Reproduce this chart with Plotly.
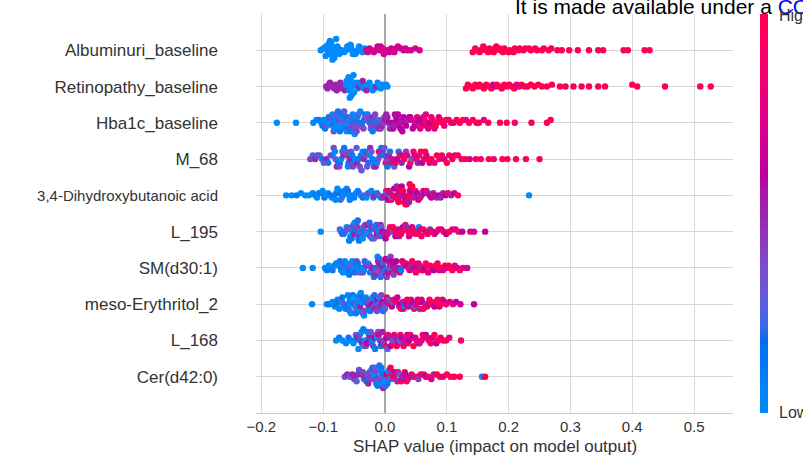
import numpy as np
import plotly.graph_objects as go

# ---------------- data ----------------
feature_names = ["Cer(d42:0)", "L_168", "meso-Erythritol_2", "SM(d30:1)", "L_195",
                 "3,4-Dihydroxybutanoic acid", "M_68", "Hba1c_baseline",
                 "Retinopathy_baseline", "Albuminuri_baseline"]  # bottom -> top

x_tick_values = [-0.2, -0.1, 0.0, 0.1, 0.2, 0.3, 0.4, 0.5]
x_tick_labels = ["\u22120.2", "\u22120.1", "0.0", "0.1", "0.2", "0.3", "0.4", "0.5"]

shap_albuminuri = [
    -0.104, -0.100, -0.098, -0.096, -0.095,
    -0.093, -0.092, -0.091, -0.090, -0.090, -0.089, -0.089, -0.088, -0.088, -0.087, -0.086, -0.085, -0.084, -0.083,
    -0.082, -0.080, -0.079, -0.077, -0.076, -0.074, -0.073,
    -0.070, -0.066, -0.063,
    -0.061, -0.059, -0.058, -0.056, -0.055, -0.053, -0.052,
    -0.050, -0.048, -0.046, -0.044, -0.042,
    -0.039, -0.036, -0.033,
    -0.030, -0.028, -0.025, -0.022, -0.018, -0.015, -0.012, -0.010, -0.009, -0.007,
    -0.004, -0.002, 0.001, 0.004, 0.007, 0.010, 0.012, 0.015, 0.018, 0.021,
    0.026, 0.030, 0.033, 0.037, 0.042, 0.049, 0.056,
    0.142, 0.146, 0.148, 0.153, 0.155, 0.159, 0.161, 0.163, 0.167, 0.169,
    0.171, 0.176, 0.178, 0.180, 0.185, 0.186, 0.191, 0.193, 0.195, 0.200,
    0.202, 0.208, 0.210, 0.216, 0.218, 0.224, 0.227, 0.233, 0.236, 0.243,
    0.246, 0.254, 0.257, 0.265, 0.269,
    0.279, 0.286, 0.298, 0.312, 0.330, 0.345, 0.353, 0.386, 0.393, 0.420, 0.428,
]
feat_albuminuri = [
    0.0, 0.0, 0.0, 0.0, 0.0, 0.0, 0.0, 0.0, 0.0, 0.0, 0.0,
    0.0, 0.0, 0.0, 0.0, 0.0, 0.0, 0.0, 0.0, 0.0, 0.0, 0.0,
    0.0, 0.0, 0.0, 0.0, 0.0, 0.0, 0.0, 0.0, 0.0, 0.0, 0.0,
    0.0, 0.0, 0.0, 0.0, 0.0, 0.0, 0.0, 0.0, 0.0, 0.0, 0.0,
    0.7, 0.7, 0.7, 0.7, 0.7, 0.7, 0.7, 0.7, 0.7, 0.7,
    0.7, 0.7, 0.7, 0.7, 0.7, 0.7, 0.7, 0.7, 0.7, 0.7,
    0.7, 0.7, 0.7, 0.7, 0.7, 0.7, 0.7,
    1.0, 1.0, 1.0, 1.0, 1.0, 1.0, 1.0, 1.0, 1.0, 1.0,
    1.0, 1.0, 1.0, 1.0, 1.0, 1.0, 1.0, 1.0, 1.0, 1.0,
    1.0, 1.0, 1.0, 1.0, 1.0, 1.0, 1.0, 1.0, 1.0, 1.0,
    1.0, 1.0, 1.0, 1.0, 1.0,
    1.0, 1.0, 1.0, 1.0, 1.0, 1.0, 1.0, 1.0, 1.0, 1.0, 1.0,
]

shap_retinopathy = [
    -0.095, -0.093, -0.091, -0.089, -0.087, -0.085,
    -0.082, -0.080, -0.078, -0.076, -0.074, -0.072,
    -0.069, -0.067, -0.065, -0.063, -0.062, -0.061, -0.060, -0.059,
    -0.058, -0.057, -0.057, -0.056, -0.055, -0.055, -0.054, -0.053, -0.052, -0.051, -0.050, -0.048, -0.046,
    -0.044, -0.042, -0.040, -0.038, -0.036, -0.034,
    -0.032, -0.030, -0.028, -0.025, -0.023, -0.022,
    -0.020, -0.017, -0.014, -0.012, -0.010,
    -0.007, -0.004, -0.002, 0.002, 0.004,
    0.131, 0.134, 0.138, 0.142, 0.146, 0.150, 0.153, 0.157, 0.160, 0.164,
    0.168, 0.172, 0.175, 0.178, 0.181, 0.185, 0.189, 0.193, 0.197, 0.201,
    0.205, 0.209, 0.213, 0.217, 0.221, 0.226, 0.231, 0.236, 0.242, 0.248,
    0.254, 0.262, 0.270,
    0.283, 0.292, 0.305, 0.318, 0.330, 0.345, 0.356, 0.400, 0.408, 0.453, 0.510, 0.527,
]
feat_retinopathy = [
    0.5, 0.5, 0.5, 0.5, 0.5, 0.5,
    0.5, 0.5, 0.5, 0.5, 0.5, 0.5,
    0.5, 0.5, 0.5, 0.0, 0.0, 0.0, 0.0, 0.0,
    0.0, 0.0, 0.0, 0.0, 0.0, 0.0, 0.0, 0.0, 0.0, 0.0, 0.0, 0.0, 0.0,
    0.0, 0.5, 0.0, 0.0, 0.5, 0.0,
    0.0, 0.5, 0.0, 0.0, 0.5, 0.0,
    0.0, 0.0, 0.5, 0.0, 0.0,
    0.0, 0.0, 0.0, 0.0, 0.0,
    1.0, 1.0, 1.0, 1.0, 1.0, 1.0, 1.0, 1.0, 1.0, 1.0,
    1.0, 1.0, 0.7, 0.6, 1.0, 1.0, 1.0, 1.0, 1.0, 1.0,
    1.0, 1.0, 0.8, 0.7, 1.0, 1.0, 1.0, 1.0, 1.0, 1.0,
    1.0, 1.0, 1.0,
    1.0, 1.0, 1.0, 1.0, 1.0, 1.0, 1.0, 1.0, 1.0, 1.0, 1.0, 1.0,
]

shap_hba1c = [
    -0.175, -0.144, -0.116, -0.111, -0.107,
    -0.103, -0.101, -0.099, -0.097,
    -0.094, -0.093, -0.091, -0.089, -0.087,
    -0.085, -0.084, -0.083, -0.082, -0.081, -0.079, -0.078,
    -0.076, -0.075, -0.074, -0.073, -0.071, -0.070, -0.069,
    -0.067, -0.066, -0.065, -0.063, -0.062, -0.061, -0.060,
    -0.058, -0.057, -0.056, -0.055, -0.053, -0.052, -0.051,
    -0.049, -0.048, -0.047, -0.046, -0.045, -0.044, -0.043,
    -0.041, -0.040, -0.038, -0.037, -0.035, -0.034,
    -0.032, -0.031, -0.029, -0.028, -0.026, -0.025,
    -0.023, -0.022, -0.020, -0.019, -0.017, -0.016,
    -0.014, -0.012, -0.011, -0.009, -0.007,
    -0.005, -0.003, -0.001, 0.000, 0.002,
    0.004, 0.006, 0.008, 0.009, 0.011,
    0.013, 0.015, 0.016, 0.018, 0.019,
    0.021, 0.022, 0.024, 0.025, 0.027, 0.028,
    0.030, 0.032, 0.034, 0.036,
    0.039, 0.041, 0.043, 0.045,
    0.048, 0.050, 0.052, 0.054,
    0.057, 0.059, 0.060, 0.062, 0.064,
    0.066, 0.067, 0.069, 0.070, 0.072, 0.073,
    0.075, 0.077, 0.080, 0.082,
    0.084, 0.087, 0.090,
    0.093, 0.096, 0.099,
    0.103, 0.107, 0.111, 0.116, 0.121, 0.126, 0.131, 0.136, 0.142, 0.148, 0.152, 0.160, 0.167,
    0.186, 0.197, 0.210, 0.237, 0.262, 0.268,
]
feat_hba1c = [
    0.0, 0.0, 0.0, 0.0, 0.1,
    0.0, 0.2, 0.0, 0.1,
    0.3, 0.0, 0.1, 0.4, 0.0,
    0.0, 0.2, 0.4, 0.0, 0.1, 0.3, 0.0,
    0.2, 0.0, 0.4, 0.1, 0.0, 0.3, 0.1,
    0.0, 0.3, 0.1, 0.4, 0.0, 0.2, 0.0,
    0.4, 0.0, 0.1, 0.3, 0.2, 0.0, 0.4,
    0.0, 0.3, 0.1, 0.4, 0.0, 0.2, 0.3,
    0.4, 0.0, 0.3, 0.1, 0.4, 0.2,
    0.1, 0.4, 0.3, 0.0, 0.4, 0.2,
    0.3, 0.4, 0.1, 0.5, 0.2, 0.4,
    0.4, 0.2, 0.5, 0.3, 0.4,
    0.5, 0.4, 0.3, 0.5, 0.5,
    0.5, 0.6, 0.5, 0.4, 0.6,
    0.6, 0.5, 0.6, 0.5, 0.6,
    0.6, 0.5, 0.7, 0.6, 0.5, 0.6,
    0.6, 0.7, 0.6, 0.5,
    0.7, 0.6, 0.7, 0.6,
    0.6, 0.7, 0.8, 0.6,
    0.7, 0.9, 0.6, 0.7, 0.8,
    0.8, 0.7, 1.0, 0.7, 0.9, 0.6,
    0.8, 0.9, 0.7, 1.0,
    0.9, 0.7, 1.0,
    1.0, 0.8, 0.9,
    0.9, 1.0, 0.7, 1.0, 1.0, 0.9, 0.8, 1.0, 1.0, 0.9, 1.0, 0.8, 1.0,
    1.0, 1.0, 0.9, 1.0, 1.0, 1.0,
]

shap_m68 = [
    -0.121, -0.117, -0.113, -0.110, -0.106, -0.102, -0.099, -0.095, -0.092, -0.088,
    -0.085, -0.083, -0.081, -0.080, -0.078, -0.076, -0.074, -0.073, -0.071, -0.069,
    -0.067, -0.066, -0.064, -0.062, -0.060, -0.059, -0.057, -0.055, -0.053, -0.052,
    -0.050, -0.048, -0.046, -0.045, -0.043, -0.041, -0.039, -0.038, -0.036, -0.034,
    -0.032, -0.031, -0.029, -0.027, -0.025, -0.024, -0.022, -0.020, -0.018, -0.017,
    -0.015, -0.013, -0.011, -0.010, -0.008, -0.006, -0.004, -0.003, -0.001, 0.001,
    0.003, 0.004, 0.006, 0.008,
    0.010, 0.012, 0.015, 0.017, 0.020, 0.022, 0.024, 0.027, 0.029, 0.031,
    0.034, 0.036, 0.039, 0.041, 0.043, 0.046, 0.048, 0.051, 0.053, 0.055,
    0.058, 0.060, 0.063, 0.065, 0.067, 0.070, 0.072,
    0.075, 0.080, 0.084, 0.088, 0.092, 0.096, 0.100, 0.104, 0.109, 0.113, 0.118, 0.124, 0.130, 0.137,
    0.147, 0.155, 0.168, 0.176, 0.190, 0.198, 0.212, 0.228, 0.250,
]
feat_m68 = [
    0.4, 0.3, 0.5, 0.2, 0.4, 0.1, 0.3, 0.5, 0.2, 0.4,
    0.2, 0.4, 0.0, 0.3, 0.5, 0.1, 0.4, 0.2, 0.0, 0.3,
    0.5, 0.1, 0.3, 0.4, 0.0, 0.2, 0.5, 0.3, 0.1, 0.4,
    0.2, 0.0, 0.3, 0.5, 0.1, 0.4, 0.2, 0.3, 0.0, 0.5,
    0.1, 0.4, 0.3, 0.2, 0.0, 0.5, 0.3, 0.1, 0.4, 0.2,
    0.5, 0.0, 0.3, 0.9, 0.4, 0.1, 0.5, 0.2, 0.3, 0.9,
    0.4, 0.1, 0.5, 0.2,
    0.5, 0.8, 0.3, 1.0, 0.6, 0.2, 0.9, 0.5, 0.7, 1.0,
    0.4, 0.8, 0.6, 1.0, 0.3, 0.9, 0.7, 1.0, 0.5, 0.8,
    1.0, 0.6, 0.9, 1.0, 0.7, 1.0, 0.8,
    1.0, 0.8, 1.0, 0.9, 1.0, 0.7, 1.0, 0.9, 1.0, 0.8, 1.0, 0.9, 1.0, 0.7,
    1.0, 0.9, 1.0, 0.8, 1.0, 1.0, 0.9, 1.0, 1.0,
]

shap_dhba = [
    -0.160, -0.151, -0.143, -0.136, -0.129, -0.123,
    -0.117, -0.113, -0.110, -0.107, -0.104, -0.101, -0.098, -0.095, -0.092, -0.089, -0.086,
    -0.084, -0.082, -0.080, -0.079, -0.077, -0.075, -0.073, -0.072, -0.070, -0.068,
    -0.066, -0.064, -0.062, -0.060, -0.058, -0.057, -0.055, -0.053,
    -0.050, -0.047, -0.044, -0.042, -0.039, -0.036, -0.033, -0.030, -0.027, -0.025,
    -0.022, -0.019, -0.016, -0.013, -0.010, -0.007, -0.004,
    0.000, 0.002, 0.003, 0.005, 0.006, 0.008, 0.010, 0.011, 0.013, 0.015, 0.017, 0.019,
    0.021, 0.022, 0.022, 0.024, 0.025, 0.026, 0.027, 0.027, 0.029, 0.030,
    0.031, 0.031, 0.033, 0.034, 0.035, 0.035, 0.037, 0.038, 0.039, 0.040,
    0.040, 0.042, 0.043, 0.044, 0.046, 0.048, 0.049, 0.052,
    0.054, 0.057, 0.059, 0.062, 0.064, 0.067, 0.069, 0.072, 0.075, 0.078, 0.081, 0.084, 0.087, 0.090,
    0.094, 0.098, 0.102, 0.107, 0.112, 0.118, 0.233,
]
feat_dhba = [
    0.0, 0.0, 0.1, 0.0, 0.0, 0.0,
    0.0, 0.1, 0.0, 0.0, 0.2, 0.0, 0.1, 0.0, 0.0, 0.1, 0.0,
    0.0, 0.1, 0.0, 0.2, 0.0, 0.0, 0.1, 0.0, 0.3, 0.0,
    0.1, 0.0, 0.0, 0.2, 0.0, 0.1, 0.0, 0.0,
    0.1, 0.0, 0.0, 0.2, 0.0, 0.1, 0.3, 0.0, 0.1, 0.4,
    0.0, 0.2, 0.5, 0.1, 0.4, 0.0, 0.5,
    0.5, 0.9, 0.4, 0.6, 1.0, 0.5, 0.8, 0.3, 1.0, 0.6, 0.9, 0.5,
    1.0, 0.6, 1.0, 0.8, 0.5, 1.0, 0.9, 0.6, 1.0, 0.7,
    1.0, 0.5, 0.9, 1.0, 0.6, 1.0, 0.8, 1.0, 0.5, 0.9,
    1.0, 0.7, 0.6, 1.0, 0.8, 0.5, 0.9, 0.6,
    0.6, 1.0, 0.5, 0.8, 0.6, 0.9, 0.5, 0.7, 0.6, 0.5, 0.7, 0.5, 0.6, 0.5,
    0.5, 0.6, 1.0, 0.5, 0.6, 1.0, 0.0,
]

shap_l195 = [
    -0.104,
    -0.073, -0.071, -0.069, -0.067, -0.065, -0.062, -0.060, -0.058,
    -0.056, -0.055, -0.054, -0.054, -0.052, -0.051, -0.050, -0.049, -0.048, -0.048, -0.046,
    -0.045, -0.044, -0.043, -0.042, -0.042, -0.040, -0.039, -0.038, -0.037, -0.036, -0.035,
    -0.033, -0.032, -0.030, -0.029, -0.028, -0.026, -0.025, -0.024, -0.022, -0.021, -0.020, -0.018,
    -0.017, -0.015, -0.014, -0.013, -0.011, -0.010, -0.009, -0.007, -0.006, -0.004, -0.003, -0.001,
    0.001, 0.004, 0.005, 0.008, 0.009, 0.012, 0.013, 0.016, 0.017, 0.019,
    0.022, 0.023, 0.026, 0.027, 0.029, 0.032, 0.033, 0.035, 0.038, 0.039,
    0.041, 0.044, 0.045, 0.047, 0.050, 0.051, 0.054, 0.055, 0.057, 0.059,
    0.062, 0.066, 0.069, 0.073, 0.076, 0.080, 0.083, 0.087, 0.091, 0.095, 0.099, 0.104, 0.109, 0.114, 0.119, 0.125,
    0.138, 0.144, 0.162,
]
feat_l195 = [
    0.0,
    0.3, 0.0, 0.4, 0.1, 0.2, 0.0, 0.4, 0.1,
    0.0, 0.3, 0.1, 0.4, 0.0, 0.2, 0.5, 0.0, 0.3, 0.1, 0.0,
    0.4, 0.2, 0.0, 0.3, 0.1, 0.5, 0.0, 0.2, 0.4, 0.0, 0.3,
    0.1, 0.4, 0.0, 0.3, 0.5, 0.0, 0.2, 0.4, 0.1, 0.0, 0.5, 0.3,
    0.0, 0.4, 0.2, 0.6, 0.1, 0.4, 0.0, 0.5, 0.3, 0.6, 0.2, 0.5,
    0.6, 1.0, 0.5, 0.8, 1.0, 0.4, 0.9, 1.0, 0.6, 1.0,
    0.7, 0.5, 1.0, 0.9, 0.6, 1.0, 0.8, 0.5, 1.0, 0.7,
    0.9, 0.6, 1.0, 0.8, 0.5, 0.9, 1.0, 0.0, 0.7, 0.9,
    1.0, 0.7, 0.9, 0.5, 1.0, 0.8, 0.6, 1.0, 0.7, 0.9, 0.6, 1.0, 0.8, 0.7, 1.0, 0.6,
    0.8, 0.7, 0.6,
]

shap_sm = [
    -0.133, -0.117,
    -0.097, -0.094, -0.091, -0.088, -0.085, -0.082, -0.079, -0.076,
    -0.074, -0.073, -0.071, -0.070, -0.068, -0.067, -0.065, -0.064, -0.062, -0.061, -0.059, -0.058,
    -0.056, -0.055, -0.053, -0.052, -0.050, -0.049, -0.047, -0.046, -0.044, -0.043, -0.041, -0.040,
    -0.038, -0.036, -0.034, -0.033, -0.031, -0.029, -0.027, -0.025, -0.024, -0.022, -0.020, -0.018,
    -0.016, -0.015, -0.015, -0.013, -0.012, -0.011, -0.010, -0.009, -0.009, -0.007,
    -0.006, -0.005, -0.004, -0.003, -0.003, -0.001, 0.000, 0.001, 0.002, 0.003,
    0.003, 0.005, 0.006, 0.007, 0.008, 0.009, 0.010, 0.011, 0.012, 0.013,
    0.014, 0.015, 0.016,
    0.018, 0.020, 0.022, 0.024, 0.026, 0.028, 0.030, 0.032, 0.034, 0.036,
    0.038, 0.040, 0.042, 0.044, 0.046, 0.048, 0.050, 0.052, 0.054, 0.056,
    0.058, 0.060, 0.062, 0.064, 0.066, 0.068, 0.070, 0.073, 0.076, 0.079,
    0.082, 0.085, 0.088,
    0.091, 0.094, 0.097, 0.100, 0.103, 0.106, 0.109, 0.113, 0.117, 0.121, 0.126, 0.133,
]
feat_sm = [
    0.0, 0.0,
    0.0, 0.1, 0.0, 0.0, 0.2, 0.0, 0.1, 0.0,
    0.0, 0.2, 0.0, 0.1, 0.0, 0.3, 0.0, 0.1, 0.0, 0.0, 0.2, 0.1,
    0.0, 0.3, 0.0, 0.1, 0.0, 0.2, 0.0, 0.4, 0.1, 0.0, 0.3, 0.0,
    0.1, 0.4, 0.0, 0.3, 0.2, 0.5, 0.0, 0.4, 0.1, 0.3, 0.5, 0.2,
    0.4, 0.1, 0.5, 0.3, 0.0, 0.6, 0.4, 0.2, 0.5, 0.1,
    0.4, 0.6, 0.3, 0.0, 0.5, 0.4, 0.2, 0.6, 0.5, 0.1,
    0.4, 0.7, 0.3, 0.5, 0.9, 0.4, 0.6, 0.2, 0.5, 0.8,
    0.4, 0.6, 0.5,
    0.6, 1.0, 0.5, 0.8, 0.1, 0.7, 1.0, 0.5, 0.9, 0.6,
    1.0, 0.7, 0.5, 1.0, 0.8, 0.6, 1.0, 0.9, 0.7, 1.0,
    0.5, 0.8, 1.0, 0.6, 0.9, 1.0, 0.7, 1.0, 0.8, 0.6,
    1.0, 0.9, 0.7,
    1.0, 0.8, 1.0, 0.7, 1.0, 0.9, 1.0, 0.8, 0.7, 1.0, 0.8, 0.7,
]

shap_erythritol = [
    -0.118, -0.094, -0.090, -0.085,
    -0.081, -0.079, -0.077, -0.076, -0.074, -0.072, -0.070, -0.069, -0.067, -0.065, -0.064, -0.062,
    -0.060, -0.059, -0.058, -0.057, -0.057, -0.055, -0.054, -0.053, -0.052, -0.051,
    -0.050, -0.049, -0.048, -0.047, -0.046, -0.045, -0.044, -0.043, -0.042, -0.041,
    -0.040, -0.039, -0.038, -0.037, -0.036, -0.035, -0.034, -0.033, -0.032, -0.031,
    -0.029, -0.028, -0.026, -0.025, -0.024, -0.022, -0.021, -0.020, -0.018, -0.017,
    -0.016, -0.014, -0.013, -0.012, -0.010, -0.009, -0.008, -0.006, -0.005, -0.004,
    -0.003, -0.002, -0.001, 0.000,
    0.002, 0.003, 0.006, 0.008, 0.011, 0.012, 0.014, 0.017, 0.018, 0.020,
    0.023, 0.024, 0.026, 0.029, 0.030, 0.032, 0.035, 0.036, 0.038, 0.041,
    0.042, 0.044, 0.047, 0.048, 0.050, 0.053, 0.054, 0.056, 0.059, 0.060,
    0.062, 0.065, 0.066, 0.068, 0.071, 0.072,
    0.074, 0.077, 0.080, 0.082, 0.085, 0.088, 0.090, 0.093, 0.096, 0.099,
    0.105, 0.110, 0.115, 0.122, 0.144,
]
feat_erythritol = [
    0.0, 0.0, 0.1, 0.0,
    0.0, 0.2, 0.0, 0.1, 0.0, 0.3, 0.0, 0.1, 0.0, 0.4, 0.0, 0.1,
    0.0, 0.1, 0.0, 0.3, 0.0, 0.0, 0.2, 0.0, 0.1, 0.0,
    0.4, 0.0, 0.0, 0.1, 0.3, 0.0, 0.2, 0.0, 0.0, 0.1,
    0.5, 0.0, 0.2, 0.0, 0.3, 0.1, 0.0, 0.4, 0.1, 0.0,
    0.2, 0.4, 0.0, 0.5, 0.1, 0.3, 0.6, 0.0, 0.4, 0.2,
    0.5, 0.1, 0.4, 0.6, 0.3, 0.0, 0.5, 0.4, 0.2, 0.6,
    0.1, 0.5, 0.4, 0.3,
    0.5, 0.8, 0.4, 1.0, 0.6, 0.3, 0.9, 0.5, 1.0, 0.7,
    0.4, 0.6, 1.0, 0.5, 0.8, 0.2, 0.6, 1.0, 0.7, 0.5,
    0.9, 0.6, 1.0, 0.4, 0.8, 0.7, 1.0, 0.5, 0.9, 0.6,
    1.0, 0.8, 0.5, 1.0, 0.7, 0.9,
    1.0, 0.8, 0.6, 1.0, 0.9, 0.7, 1.0, 0.8, 0.6, 0.9,
    0.7, 0.8, 0.6, 0.7, 0.6,
]

shap_l168 = [
    -0.079, -0.074, -0.069,
    -0.063, -0.059, -0.055, -0.051,
    -0.049, -0.047, -0.046, -0.044, -0.043, -0.041, -0.040, -0.038, -0.037, -0.035,
    -0.034, -0.032, -0.031, -0.029, -0.028, -0.026, -0.025, -0.023, -0.022, -0.020,
    -0.019, -0.017, -0.016, -0.014, -0.013, -0.011, -0.010, -0.008, -0.007, -0.005,
    -0.004, -0.002, -0.001, 0.001, 0.002, 0.004, 0.005, 0.007,
    0.009, 0.012, 0.013, 0.015, 0.018, 0.019, 0.021, 0.024, 0.025, 0.027, 0.030, 0.031, 0.033, 0.036, 0.037, 0.039,
    0.041, 0.044, 0.046, 0.049, 0.051, 0.054, 0.056, 0.059, 0.061, 0.064, 0.066, 0.069, 0.071, 0.074, 0.077, 0.080, 0.083,
    0.086, 0.090, 0.094, 0.099, 0.104,
    0.123,
]
feat_l168 = [
    0.0, 0.1, 0.0,
    0.0, 0.2, 0.1, 0.0,
    0.0, 0.3, 0.1, 0.5, 0.0, 0.4, 0.2, 0.0, 0.5, 0.1,
    0.3, 0.0, 0.4, 0.6, 0.1, 0.0, 0.5, 0.3, 0.2, 0.0,
    0.4, 0.6, 0.1, 0.5, 0.0, 0.3, 0.7, 0.4, 0.1, 0.6,
    0.5, 0.2, 0.4, 1.0, 0.6, 0.3, 0.9, 0.5,
    0.6, 1.0, 0.4, 0.8, 0.5, 1.0, 0.7, 0.3, 0.9, 0.6, 1.0, 0.5, 0.8, 0.7, 1.0, 0.6,
    0.9, 0.6, 1.0, 0.7, 0.8, 1.0, 0.5, 0.9, 1.0, 0.7, 0.6, 1.0, 0.8, 0.9, 0.7, 1.0, 0.6,
    1.0, 0.8, 0.9, 1.0, 0.8,
    0.9,
]

shap_cer = [
    -0.065, -0.061, -0.057, -0.053,
    -0.050, -0.048, -0.046, -0.044, -0.042, -0.040, -0.038, -0.036, -0.034, -0.032, -0.030, -0.029, -0.027, -0.025, -0.024, -0.022,
    -0.021, -0.020, -0.018, -0.018, -0.017, -0.015, -0.015, -0.014, -0.012, -0.012,
    -0.011, -0.009, -0.009, -0.008, -0.006, -0.006, -0.005, -0.003, -0.003, -0.002,
    0.000, 0.000, 0.001, 0.003, 0.003, 0.004, 0.006, 0.006, 0.007, 0.008,
    0.009, 0.011, 0.014, 0.015, 0.017, 0.020, 0.021, 0.023, 0.026, 0.027, 0.029, 0.032, 0.033, 0.035, 0.037,
    0.040, 0.043, 0.046, 0.051, 0.054, 0.058, 0.063, 0.066, 0.070, 0.075, 0.079, 0.084,
    0.089, 0.094, 0.100, 0.106, 0.112, 0.121, 0.157, 0.162,
]
feat_cer = [
    0.4, 0.5, 0.3, 0.5,
    0.4, 0.5, 0.3, 0.5, 0.4, 0.2, 0.5, 0.4, 0.3, 0.5, 0.1, 0.4, 0.5, 0.2, 0.4, 0.3,
    0.4, 0.1, 0.5, 0.0, 0.3, 0.4, 0.0, 0.2, 0.5, 0.1,
    0.0, 0.4, 0.2, 0.0, 0.3, 0.1, 0.0, 0.5, 0.0, 0.2,
    0.1, 0.0, 0.3, 0.0, 0.6, 0.1, 0.0, 0.9, 0.2, 0.0,
    1.0, 0.4, 0.8, 0.6, 1.0, 0.5, 0.9, 0.3, 1.0, 0.7, 0.5, 1.0, 0.6, 0.8, 1.0,
    0.6, 1.0, 0.5, 0.9, 0.4, 1.0, 0.7, 0.6, 1.0, 0.8, 0.5, 1.0,
    1.0, 0.7, 1.0, 0.9, 1.0, 1.0, 0.0, 1.0,
]

# bottom -> top, same order as feature_names
row_shap = [shap_cer, shap_l168, shap_erythritol, shap_sm, shap_l195,
            shap_dhba, shap_m68, shap_hba1c, shap_retinopathy, shap_albuminuri]
row_feat = [feat_cer, feat_l168, feat_erythritol, feat_sm, feat_l195,
            feat_dhba, feat_m68, feat_hba1c, feat_retinopathy, feat_albuminuri]


# ---------------- SHAP red_blue colormap (Lch interpolation) ----------------
def lab_to_rgb(L, a, b):
    fy = (L + 16.0) / 116.0
    fx = fy + a / 500.0
    fz = fy - b / 200.0

    def finv(t):
        return t ** 3 if t ** 3 > 0.008856 else (t - 16.0 / 116.0) / 7.787

    X, Y, Z = 0.95047 * finv(fx), finv(fy), 1.08883 * finv(fz)
    r = 3.2406 * X - 1.5372 * Y - 0.4986 * Z
    g = -0.9689 * X + 1.8758 * Y + 0.0415 * Z
    bl = 0.0557 * X - 0.2040 * Y + 1.0570 * Z
    out = []
    for v in (r, g, bl):
        v = 1.055 * v ** (1 / 2.4) - 0.055 if v > 0.0031308 else 12.92 * v
        out.append(int(round(min(max(v, 0.0), 1.0) * 255)))
    return out


nsteps = 100
blue_lch = [54.0, 70.0, 4.6588]
red_lch = [54.0, 90.0, 0.35470565 + 2 * np.pi]
l_mid = 40.0
l_vals = list(np.linspace(blue_lch[0], l_mid, nsteps // 2)) + list(np.linspace(l_mid, red_lch[0], nsteps // 2))
c_vals = np.linspace(blue_lch[1], red_lch[1], nsteps)
h_vals = np.linspace(blue_lch[2], red_lch[2], nsteps)
colorscale = []
for pos, l, c, h in zip(np.linspace(0, 1, nsteps), l_vals, c_vals, h_vals):
    r, g, b = lab_to_rgb(l, c * np.cos(h), c * np.sin(h))
    colorscale.append([float(pos), f"rgb({r},{g},{b})"])


# ---------------- beeswarm layout (shap-style binning) ----------------
def swarm_offsets(vals, bin_width=0.01, max_offset=0.31):
    vals = np.asarray(vals, dtype=float)
    n = len(vals)
    quant = np.round((vals - vals.min()) / bin_width)
    tie = (np.arange(n) * 0.6180339887) % 1.0
    order = np.lexsort((tie, quant))
    ys = np.zeros(n)
    layer, last = 0, None
    for i in order:
        if quant[i] != last:
            layer = 0
        ys[i] = np.ceil(layer / 2) * ((layer % 2) * 2 - 1)
        layer += 1
        last = quant[i]
    m = np.max(np.abs(ys))
    if m > 0:
        ys *= max_offset / m
    return ys


FONT = "Liberation Sans, Arial, sans-serif"
TXT = "#333333"

# tick label text (the long metabolite name is set slightly smaller, as in the source figure)
y_tick_text = [("<span style='font-size:15px'>%s</span>" % f) if f.startswith("3,4-") else f
               for f in feature_names]

fig = go.Figure()
for pos, (sv, fv) in enumerate(zip(row_shap, row_feat)):
    n = min(len(sv), len(fv))
    sv = np.asarray(sv[:n])
    fv = np.asarray(fv[:n])
    ys = swarm_offsets(sv)
    fig.add_trace(go.Scatter(
        x=sv, y=pos + ys, mode="markers", showlegend=False, hoverinfo="skip",
        marker=dict(size=6.4, color=fv, colorscale=colorscale, cmin=0, cmax=1,
                    line=dict(width=0), opacity=1.0,
                    showscale=(pos == 0),
                    colorbar=dict(thickness=8, thicknessmode="pixels",
                                  len=399, lenmode="pixels",
                                  x=1.0566, xanchor="left", xpad=0,
                                  y=0, yanchor="bottom", ypad=0,
                                  outlinewidth=0, showticklabels=False, ticks="")),
    ))

W, H = 803, 461
ML, MR, MT, MB = 256, 70, 14, 48
pw, ph = W - ML - MR, H - MT - MB


def px_x(x):
    return (x - ML) / pw


def px_y(y):
    return (H - MB - y) / ph


fig.update_layout(
    width=W, height=H,
    margin=dict(l=ML, r=MR, t=MT, b=MB, pad=0),
    paper_bgcolor="white", plot_bgcolor="white",
    font=dict(family=FONT, color=TXT),
    xaxis=dict(range=[-0.2087, 0.563], tickvals=x_tick_values, ticktext=x_tick_labels,
               showgrid=True, gridcolor="#dadada", gridwidth=1.2,
               zeroline=True, zerolinecolor="#aaaaaa", zerolinewidth=1.8,
               showline=True, linecolor="#cccccc", linewidth=1.3,
               ticks="", tickfont=dict(size=15, color=TXT, family=FONT),
               automargin=False, fixedrange=True),
    yaxis=dict(range=[-1, 10], tickvals=list(range(len(feature_names))), ticktext=y_tick_text,
               showgrid=True, gridcolor="#d6d6d6", gridwidth=1.2,
               zeroline=False, showline=False, ticks="",
               tickfont=dict(size=17, color=TXT, family=FONT),
               ticklabelstandoff=37, automargin=False, fixedrange=True),
    annotations=[
        dict(text="SHAP value (impact on model output)", xref="paper", yref="paper",
             x=0.5, y=px_y(446), xanchor="center", yanchor="middle", showarrow=False,
             font=dict(size=17, color=TXT, family=FONT)),
        dict(text="It is made available under a <span style='color:#0000ff'>CC-BY-NC-ND 4.0 International license</span>.",
             xref="paper", yref="paper", x=px_x(513), y=px_y(6), xanchor="left", yanchor="middle",
             showarrow=False, font=dict(size=21, color="#000000", family=FONT)),
        dict(text="High", xref="paper", yref="paper", x=px_x(777), y=px_y(15),
             xanchor="left", yanchor="middle", showarrow=False,
             font=dict(size=16, color=TXT, family=FONT)),
        dict(text="Low", xref="paper", yref="paper", x=px_x(777), y=px_y(412),
             xanchor="left", yanchor="middle", showarrow=False,
             font=dict(size=16, color=TXT, family=FONT)),
    ],
)

fig.write_html("out.html")
